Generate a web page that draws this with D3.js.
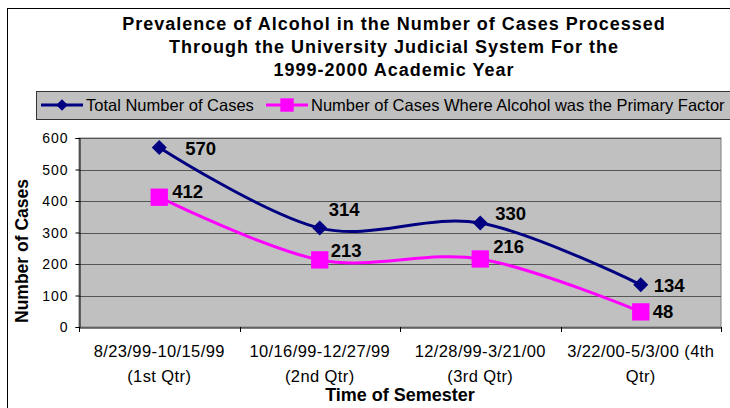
<!DOCTYPE html>
<meta charset="utf-8">
<style>
body { margin: 0; background: #fff; }
text { font-family: Arial, "Liberation Sans", sans-serif; }
.title { font-size: 18px; font-weight: bold; letter-spacing: 1px; }
.tick text { font-size: 14px; letter-spacing: 1px; }
.val { font-size: 18.5px; font-weight: bold; }
</style>
<svg width="730" height="408"></svg>
<script src="https://d3js.org/d3.v7.min.js"></script>
<script>
// categories, two lines each
var periods = [
  ["8/23/99-10/15/99", "(1st Qtr)"],
  ["10/16/99-12/27/99", "(2nd Qtr)"],
  ["12/28/99-3/21/00", "(3rd Qtr)"],
  ["3/22/00-5/3/00 (4th", "Qtr)"]
];
var totalCases = [570, 314, 330, 134];
var alcoholCases = [412, 213, 216, 48];
var yTicks = [0, 100, 200, 300, 400, 500, 600];
var titleLines = [
  "Prevalence of Alcohol in the Number of Cases Processed",
  "Through the University Judicial System For the",
  "1999-2000 Academic Year"
];

var svg = d3.select("svg");
var pLeft = 79, pRight = 721, pTop = 138, pBottom = 327;

// outer chart border
svg.append("rect").attr("x", 7.5).attr("y", 8.5).attr("width", 740).attr("height", 420)
  .attr("fill", "none").attr("stroke", "#000").attr("stroke-width", 1);

svg.selectAll(".title").data(titleLines).enter().append("text")
  .attr("class", "title")
  .attr("x", 394).attr("y", function(d, i) { return 30 + i * 23; })
  .attr("text-anchor", "middle")
  .text(function(d) { return d; });

var x = d3.scaleBand().domain(d3.range(periods.length)).range([pLeft, pRight]);
var y = d3.scaleLinear().domain([0, 600]).range([pBottom, pTop]);

// plot area
svg.append("rect").attr("x", pLeft).attr("y", pTop).attr("width", pRight - pLeft).attr("height", pBottom - pTop)
  .attr("fill", "#c0c0c0").attr("stroke", "#808080");

svg.append("g").selectAll("line").data(yTicks.slice(1)).enter().append("line")
  .attr("x1", pLeft).attr("x2", pRight)
  .attr("y1", function(d) { return Math.round(y(d)) + 0.5; })
  .attr("y2", function(d) { return Math.round(y(d)) + 0.5; })
  .attr("stroke", "#555").attr("stroke-width", 1);

var yAxis = svg.append("g").attr("transform", "translate(" + (pLeft + 0.5) + ",0)")
  .call(d3.axisLeft(y).tickValues(yTicks).tickSize(4).tickPadding(7));
yAxis.select(".domain").attr("stroke", "#000");
yAxis.selectAll(".tick text").attr("dy", "0.35em");

var xAxis = svg.append("g").attr("transform", "translate(0," + (pBottom + 0.5) + ")")
  .call(d3.axisBottom(x).tickSize(0).tickFormat(""));
xAxis.select(".domain").attr("stroke", "#000");
// tick marks at category boundaries
svg.append("g").selectAll("line").data(d3.range(periods.length + 1)).enter().append("line")
  .attr("x1", function(i) { return Math.round(pLeft + i * x.step()) + 0.5; })
  .attr("x2", function(i) { return Math.round(pLeft + i * x.step()) + 0.5; })
  .attr("y1", pBottom).attr("y2", pBottom + 5).attr("stroke", "#000");

var xl = svg.append("g").selectAll("text").data(periods).enter().append("text")
  .attr("text-anchor", "middle").style("font-size", "16.5px").style("letter-spacing", "0.4px")
  .attr("transform", function(d, i) { return "translate(" + (x(i) + x.bandwidth() / 2) + ",357)"; });
xl.append("tspan").attr("x", 0).attr("y", 0).text(function(d) { return d[0]; });
xl.append("tspan").attr("x", 0).attr("y", 25).text(function(d) { return d[1]; });

svg.append("text").attr("x", 400).attr("y", 401).attr("text-anchor", "middle")
  .style("font-size", "18px").style("font-weight", "bold").text("Time of Semester");
svg.append("text").attr("transform", "translate(28,251) rotate(-90)").attr("text-anchor", "middle")
  .style("font-size", "17.5px").style("font-weight", "bold").text("Number of Cases");

var cx = function(d, i) { return x(i) + x.bandwidth() / 2; };
// Excel "smoothed line" ~ uniform Catmull-Rom
var line = d3.line().x(cx).y(function(d) { return y(d); }).curve(d3.curveCardinal.tension(0));

// label offsets (Excel-style placement next to each marker)
var totalLabelDx = [26, 9, 15, 13], totalLabelDy = [8, -12, -3, 7];
var alcLabelDx = [13, 11, 13, 12], alcLabelDy = [1, -3, -6, 6];

var series = [
  { values: totalCases, color: "#000080", shape: d3.symbolSquare, size: 112, rot: 45, dx: totalLabelDx, dy: totalLabelDy },
  { values: alcoholCases, color: "#ff00ff", shape: d3.symbolSquare, size: 300, rot: 0, dx: alcLabelDx, dy: alcLabelDy }
];

series.forEach(function(s) {
  svg.append("path").datum(s.values).attr("d", line)
    .attr("fill", "none").attr("stroke", s.color).attr("stroke-width", 3);
  svg.append("g").selectAll("path").data(s.values).enter().append("path")
    .attr("d", d3.symbol().type(s.shape).size(s.size))
    .attr("transform", function(d, i) { return "translate(" + cx(d, i) + "," + y(d) + ") rotate(" + s.rot + ")"; })
    .attr("fill", s.color);
  svg.append("g").selectAll("text").data(s.values).enter().append("text")
    .attr("class", "val")
    .attr("x", function(d, i) { return cx(d, i) + s.dx[i]; })
    .attr("y", function(d, i) { return y(d) + s.dy[i]; })
    .text(function(d) { return d; });
});

// legend
var lg = svg.append("g");
lg.append("rect").attr("x", 36.5).attr("y", 91.5).attr("width", 710).attr("height", 28)
  .attr("fill", "#c0c0c0").attr("stroke", "#333");
var items = [
  { label: "Total Number of Cases", s: series[0], x: 41 },
  { label: "Number of Cases Where Alcohol was the Primary Factor", s: series[1], x: 266 }
];
items.forEach(function(it) {
  lg.append("line").attr("x1", it.x).attr("x2", it.x + 42).attr("y1", 105).attr("y2", 105)
    .attr("stroke", it.s.color).attr("stroke-width", 3);
  lg.append("path").attr("d", d3.symbol().type(it.s.shape).size(it.s.size * 0.6))
    .attr("transform", "translate(" + (it.x + 21) + ",105) rotate(" + it.s.rot + ")").attr("fill", it.s.color);
  lg.append("text").attr("x", it.x + 45).attr("y", 111).style("font-size", "16.5px").text(it.label);
});
</script>
